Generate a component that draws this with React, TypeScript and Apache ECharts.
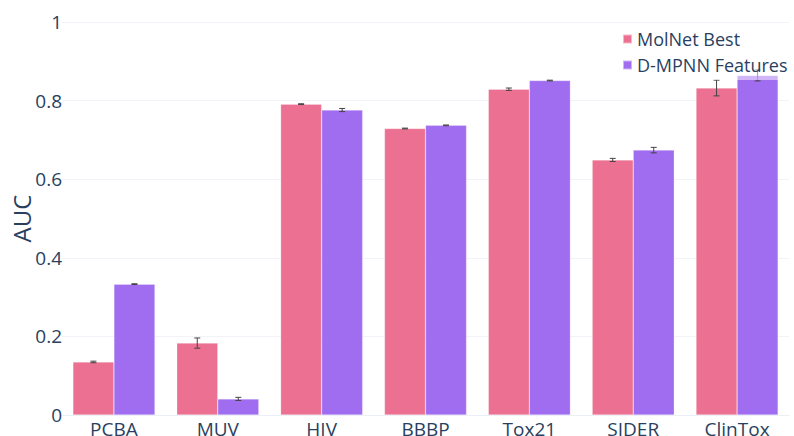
import React, { useEffect, useRef } from "react";
import * as echarts from "echarts";

const categories = ["PCBA", "MUV", "HIV", "BBBP", "Tox21", "SIDER", "ClinTox"];
const molnetValues = [0.135, 0.183, 0.791, 0.729, 0.829, 0.649, 0.832];
const molnetErrors = [0.002, 0.013, 0.001, 0.001, 0.003, 0.004, 0.02];
const dmpnnValues = [0.333, 0.041, 0.776, 0.737, 0.851, 0.674, 0.864];
const dmpnnErrors = [0.001, 0.004, 0.004, 0.001, 0.001, 0.007, 0.014];
const seriesNames = ["MolNet Best", "D-MPNN Features"];
const yTicks = [0, 0.2, 0.4, 0.6, 0.8, 1];

const PINK = "#EC7091";
const PURPLE = "#A06CF0";
const TEXT = "#2a3f5f";
const FONT = "'Open Sans', 'Noto Sans', sans-serif";
const GAP = 0.21;

export default function App() {
  const ref = useRef<HTMLDivElement>(null);
  useEffect(() => {
    document.body.style.margin = "0";
    const chart = echarts.init(ref.current!, null, { renderer: "svg" });
    const errData: number[][] = [];
    categories.forEach((_, i) => {
      errData.push([i, molnetValues[i], molnetErrors[i], 0]);
      errData.push([i, dmpnnValues[i], dmpnnErrors[i], 1]);
    });
    chart.setOption({
      animation: false,
      textStyle: { fontFamily: FONT },
      grid: { left: 62, right: 5, top: 22, bottom: 21, containLabel: false, outerBoundsMode: "none" },
      legend: {
        orient: "vertical",
        left: 617,
        top: 25,
        icon: "rect",
        itemWidth: 9,
        itemHeight: 9,
        itemGap: 8,
        padding: [5, 10, 6, 5],
        backgroundColor: "rgba(255,255,255,0.5)",
        z: 20,
        data: seriesNames,
        textStyle: { color: TEXT, fontSize: 18, fontFamily: FONT },
      },
      xAxis: {
        type: "category",
        data: categories,
        axisTick: { show: false },
        axisLine: { show: true, lineStyle: { color: "#EBF0F8", width: 1 } },
        axisLabel: { color: TEXT, fontSize: 19, margin: 4, fontFamily: FONT },
      },
      yAxis: {
        type: "value",
        min: 0,
        max: 1,
        interval: 0.2,
        name: "AUC",
        nameLocation: "middle",
        nameGap: 29,
        nameMoveOverlap: false,
        nameTextStyle: { color: TEXT, fontSize: 24, fontFamily: FONT },
        axisLine: { show: false },
        axisTick: { show: false },
        axisLabel: {
          color: TEXT,
          fontSize: 19,
          margin: 0,
          fontFamily: FONT,
          formatter: (v: number) => (yTicks.includes(Math.round(v * 10) / 10) ? String(Math.round(v * 10) / 10) : ""),
        },
        splitLine: { lineStyle: { color: "#F2F3F8", width: 1 } },
      },
      series: [
        {
          name: seriesNames[0],
          type: "bar",
          data: molnetValues,
          barGap: "0%",
          barCategoryGap: GAP * 100 + "%",
          itemStyle: { color: PINK, borderColor: "rgba(255,255,255,0.5)", borderWidth: 0.5 },
        },
        {
          name: seriesNames[1],
          type: "bar",
          data: dmpnnValues,
          barGap: "0%",
          barCategoryGap: GAP * 100 + "%",
          itemStyle: { color: PURPLE, borderColor: "rgba(255,255,255,0.5)", borderWidth: 0.5 },
        },
        {
          type: "custom",
          data: errData,
          z: 3,
          silent: true,
          renderItem: (params: any, api: any) => {
            const idx = api.value(0);
            const v = api.value(1);
            const e = api.value(2);
            const s = api.value(3);
            const band = api.size([1, 0])[0];
            const barW = (band * (1 - GAP)) / 2;
            const cx = api.coord([idx, v])[0] + (s === 0 ? -barW / 2 : barW / 2);
            const yTop = api.coord([idx, v + e])[1];
            const yBot = api.coord([idx, v - e])[1];
            const cap = 3;
            const style = { stroke: "#444", lineWidth: 1 };
            return {
              type: "group",
              children: [
                { type: "line", shape: { x1: cx, y1: yTop, x2: cx, y2: yBot }, style },
                { type: "line", shape: { x1: cx - cap, y1: yTop, x2: cx + cap, y2: yTop }, style },
                { type: "line", shape: { x1: cx - cap, y1: yBot, x2: cx + cap, y2: yBot }, style },
              ],
            };
          },
        },
      ],
    });
    return () => chart.dispose();
  }, []);
  return <div ref={ref} style={{ width: 794, height: 436 }} />;
}
